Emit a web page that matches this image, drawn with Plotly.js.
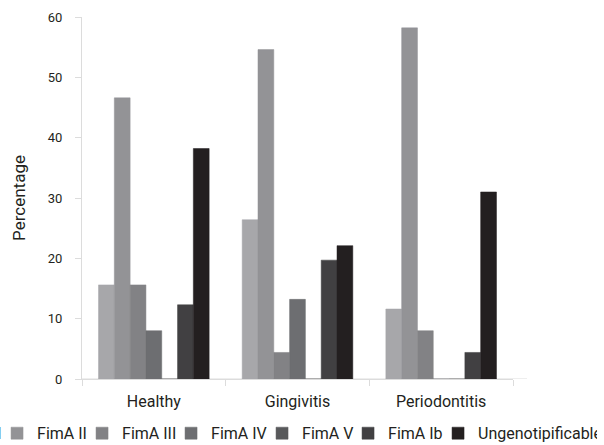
<!DOCTYPE html>
<html>
<head>
<meta charset="utf-8">
<script src="https://cdn.plot.ly/plotly-3.0.1.min.js"></script>
<style>
  html, body { margin: 0; padding: 0; width: 604px; height: 445px; overflow: hidden; background: #fff; }
  #chart { position: absolute; left: -296px; top: 0; width: 900px; height: 445px; }
</style>
</head>
<body>
<div id="chart"></div>
<script>
const categories = ['Healthy', 'Gingivitis', 'Periodontitis'];
const seriesNames = ['FimA I', 'FimA II', 'FimA III', 'FimA IV', 'FimA V', 'FimA Ib', 'Ungenotipificable'];
const fimaI   = [15.6, 26.4, 11.6];
const fimaII  = [46.6, 54.6, 58.2];
const fimaIII = [15.6, 4.4, 8.0];
const fimaIV  = [8.0, 13.2, 0];
const fimaV   = [0, 0, 0];
const fimaIb  = [12.3, 19.7, 4.4];
const ungeno  = [38.2, 22.1, 31.0];
const yTicks  = [0, 10, 20, 30, 40, 50, 60];

const seriesValues = [fimaI, fimaII, fimaIII, fimaIV, fimaV, fimaIb, ungeno];
const colors = ['#a7a7aa', '#939396', '#828285', '#6d6e71', '#58595b', '#414042', '#231f20'];
const FONT = 'Roboto, "Noto Sans", sans-serif';
const LEGEND_SIZE = 16;

// measure legend text widths to tighten legend entry spacing
const ctx = document.createElement('canvas').getContext('2d');
ctx.font = LEGEND_SIZE + 'px Roboto';
const textW = seriesNames.map(n => ctx.measureText(n).width);

const traces = seriesNames.map((name, i) => ({
  type: 'bar',
  name: name,
  x: categories,
  y: seriesValues[i],
  marker: { color: colors[i], line: { color: colors[i], width: 0.5 } },
  legendwidth: Math.max(1, Math.round(textW[i] - 10)),
  hoverinfo: 'name+y'
}));

const W = 900, SHIFT = 296;
const plotL = 82 + SHIFT, plotR = 513 + SHIFT;
const layout = {
  width: W,
  height: 445,
  margin: { l: plotL, r: W - plotR, t: 17, b: 66, autoexpand: false },
  paper_bgcolor: '#ffffff',
  plot_bgcolor: '#ffffff',
  font: { family: FONT, color: '#231f20' },
  barmode: 'group',
  bargap: 0.23,
  bargroupgap: 0,
  showlegend: true,
  legend: {
    orientation: 'h',
    x: (241 - plotL) / (plotR - plotL),
    xanchor: 'left',
    y: -0.103,
    yanchor: 'top',
    font: { size: LEGEND_SIZE, color: '#231f20' },
    traceorder: 'normal',
    itemclick: false
  },
  xaxis: {
    type: 'category',
    showline: true,
    linecolor: '#dcdcdc',
    linewidth: 1,
    ticks: 'outside',
    tickson: 'boundaries',
    ticklen: 6,
    tickcolor: '#dcdcdc',
    showgrid: false,
    zeroline: false,
    tickfont: { size: 16, color: '#231f20' },
    ticklabelstandoff: 8
  },
  yaxis: {
    range: [0, 60],
    tickvals: yTicks,
    ticktext: yTicks.map(String),
    showline: true,
    linecolor: '#dcdcdc',
    linewidth: 1,
    ticks: 'outside',
    ticklen: 6,
    tickcolor: '#dcdcdc',
    showgrid: false,
    zeroline: false,
    tickfont: { size: 13, color: '#231f20' },
    ticklabelstandoff: 10,
    title: { text: 'Percentage', font: { size: 17, color: '#231f20' }, standoff: 17 }
  },
  shapes: [{
    type: 'line', xref: 'paper', yref: 'y', x0: 0, x1: 1.0325, y0: 0, y1: 0,
    line: { color: '#dcdcdc', width: 1 }, layer: 'below'
  }]
};

Plotly.newPlot('chart', traces, layout, { displayModeBar: false, staticPlot: true }).then(gd => {
  // align the legend so that its last entry ends at the right edge of the window
  const texts = gd.querySelectorAll('.legend .legendtext');
  if (!texts.length) return;
  const last = texts[texts.length - 1].getBoundingClientRect();
  const targetRight = 602;
  const dx = targetRight - last.right;
  const newX = gd._fullLayout.legend.x + dx / (plotR - plotL);
  return Plotly.relayout(gd, { 'legend.x': newX });
});
</script>
</body>
</html>
